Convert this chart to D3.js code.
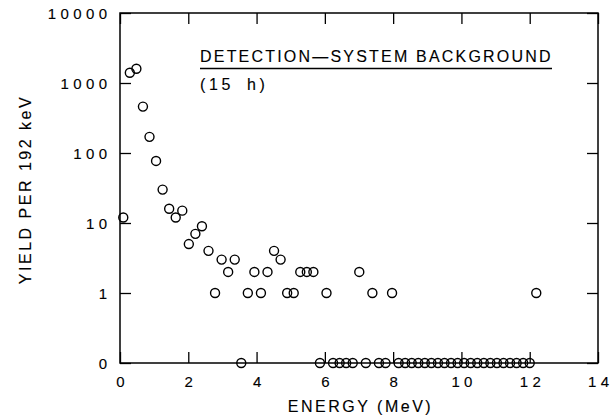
<!DOCTYPE html>
<html>
<head>
<meta charset="utf-8">
<script src="https://cdn.jsdelivr.net/npm/d3@7"></script>
<style>
  html, body { margin: 0; padding: 0; background: #fff; }
  svg { display: block; }
  text { font-family: "Liberation Sans", Arial, sans-serif; fill: #000; stroke: #000; stroke-width: 0.12px; }
</style>
</head>
<body>
<svg id="chart" width="616" height="420"></svg>
<script>
// Energy bin centres (MeV), 192 keV wide bins
const energy = [
  0.096, 0.288, 0.480, 0.672, 0.864, 1.056, 1.248, 1.440, 1.632, 1.824,
  2.016, 2.208, 2.400, 2.592, 2.784, 2.976, 3.168, 3.360, 3.552, 3.744,
  3.936, 4.128, 4.320, 4.512, 4.704, 4.896, 5.088, 5.280, 5.472, 5.664,
  5.856, 6.048, 6.240, 6.432, 6.624, 6.816, 7.008, 7.200, 7.392, 7.584,
  7.776, 7.968, 8.160, 8.352, 8.544, 8.736, 8.928, 9.120, 9.312, 9.504,
  9.696, 9.888, 10.080, 10.272, 10.464, 10.656, 10.848, 11.040, 11.232, 11.424,
  11.616, 11.808, 12.000, 12.192
];
// Counts per bin
const yieldCounts = [
  12, 1400, 1600, 460, 170, 77, 30, 16, 12, 15,
  5, 7, 9, 4, 1, 3, 2, 3, 0, 1,
  2, 1, 2, 4, 3, 1, 1, 2, 2, 2,
  0, 1, 0, 0, 0, 0, 2, 0, 1, 0,
  0, 1, 0, 0, 0, 0, 0, 0, 0, 0,
  0, 0, 0, 0, 0, 0, 0, 0, 0, 0,
  0, 0, 0, 1
];
const xTicks = [0, 2, 4, 6, 8, 10, 12, 14];
// empty bins are drawn on an extra row one decade below 1, labelled "0"
const zeroRow = 0.1;
const yTicks = [zeroRow, 1, 10, 100, 1000, 10000];
const yTickLabels = ["0", "1", "10", "100", "1000", "10000"];
const title = "DETECTION\u2014SYSTEM BACKGROUND";
const subtitle = "(15 h)";
const xTitle = "ENERGY (MeV)";
const yTitle = "YIELD PER 192 keV";

const svg = d3.select("#chart");
const m = { left: 120, top: 13, right: 598, bottom: 363 };

const x = d3.scaleLinear().domain([0, 14]).range([m.left, m.right]);
const y = d3.scaleLog().domain([zeroRow, 10000]).range([m.bottom, m.top]);

const tick = 11;
const ls = 4.4;

// axes (ticks point inward)
const gB = svg.append("g").attr("transform", `translate(0,${m.bottom})`)
  .call(d3.axisBottom(x).tickValues(xTicks).tickSize(-tick).tickPadding(0).tickFormat(d3.format("d")));
const gT = svg.append("g").attr("transform", `translate(0,${m.top})`)
  .call(d3.axisTop(x).tickValues(xTicks).tickSize(-tick).tickFormat(""));
const gL = svg.append("g").attr("transform", `translate(${m.left},0)`)
  .call(d3.axisLeft(y).tickValues(yTicks).tickSize(-tick).tickPadding(0)
    .tickFormat((d, i) => yTickLabels[i]));
const gR = svg.append("g").attr("transform", `translate(${m.right},0)`)
  .call(d3.axisRight(y).tickValues(yTicks).tickSize(-tick).tickFormat(""));

[gB, gT, gL, gR].forEach(g => {
  g.select(".domain").remove();
  g.selectAll(".tick line").attr("stroke", "#000").attr("stroke-width", 1.3);
});
gB.selectAll(".tick text")
  .attr("y", 24).attr("dy", 0)
  .attr("dx", ls / 2)
  .style("font-size", "15px").style("letter-spacing", ls + "px");
gL.selectAll(".tick text")
  .attr("x", -13 + ls).attr("dy", "0.36em")
  .style("font-size", "15px").style("letter-spacing", ls + "px");

// frame
svg.append("rect")
  .attr("x", m.left).attr("y", m.top)
  .attr("width", m.right - m.left).attr("height", m.bottom - m.top)
  .attr("fill", "none").attr("stroke", "#000").attr("stroke-width", 1.5);

// data points
const pts = energy.map((e, i) => ({ e, v: yieldCounts[i] }));
svg.append("g").selectAll("circle").data(pts).join("circle")
  .attr("cx", d => x(d.e))
  .attr("cy", d => y(d.v > 0 ? d.v : zeroRow))
  .attr("r", 4.5)
  .attr("fill", "none").attr("stroke", "#000").attr("stroke-width", 1.4);

// annotation
svg.append("text")
  .attr("x", 200).attr("y", 62)
  .style("font-size", "16px").style("letter-spacing", "2.2px")
  .text(title);
svg.append("line")
  .attr("x1", 200).attr("x2", 552).attr("y1", 68.5).attr("y2", 68.5)
  .attr("stroke", "#000").attr("stroke-width", 1.4);
svg.append("text")
  .attr("x", 200).attr("y", 90)
  .style("font-size", "16px").style("letter-spacing", "3.6px").style("word-spacing", "5px")
  .text(subtitle);

// axis titles
svg.append("text")
  .attr("x", (m.left + m.right) / 2 + 1.5).attr("y", 412)
  .attr("text-anchor", "middle")
  .style("font-size", "16px").style("letter-spacing", "2.5px")
  .text(xTitle);
svg.append("text")
  .attr("transform", `translate(31,${(m.top + m.bottom) / 2 + 1.5}) rotate(-90)`)
  .attr("text-anchor", "middle")
  .style("font-size", "16px").style("letter-spacing", "2.5px")
  .text(yTitle);
</script>
</body>
</html>
